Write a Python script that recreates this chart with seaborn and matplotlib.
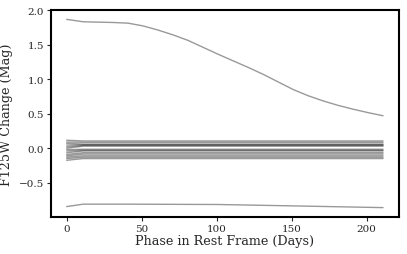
import matplotlib
matplotlib.use("Agg")
import matplotlib.pyplot as plt
import seaborn as sns
import pandas as pd

# declining curve at the top
top_days = [0, 11, 21, 31, 41, 51, 61, 71, 81, 91, 101, 111, 121, 131, 141,
            151, 161, 171, 181, 191, 201, 211]
top_mag = [1.865, 1.83, 1.825, 1.82, 1.81, 1.77, 1.71, 1.64, 1.56, 1.46, 1.36,
           1.265, 1.17, 1.07, 0.96, 0.85, 0.76, 0.685, 0.62, 0.565, 0.515, 0.47]

# curve at the bottom
bot_days = [0, 11, 41, 101, 151, 211]
bot_mag = [-0.845, -0.81, -0.81, -0.815, -0.835, -0.86]

# flat curves near zero: value at day 0, day 11, day 211
flat_days = [0, 11, 211]
flat_start = [0.115, 0.09, 0.07, 0.045, 0.02, 0.00, -0.02, -0.04, -0.065, -0.09, -0.11, -0.13, -0.15, -0.175]
flat_mid = [0.105, 0.085, 0.06, 0.05, 0.04, 0.03, -0.015, -0.03, -0.04, -0.065, -0.085, -0.11, -0.13, -0.15]
flat_end = [0.105, 0.085, 0.06, 0.05, 0.04, 0.03, -0.015, -0.03, -0.04, -0.065, -0.085, -0.11, -0.13, -0.15]

rows = []
for d, m in zip(top_days, top_mag):
    rows.append({"curve": "top", "phase": d, "mag": m})
for d, m in zip(bot_days, bot_mag):
    rows.append({"curve": "bot", "phase": d, "mag": m})
for i in range(len(flat_start)):
    for d, m in zip(flat_days, [flat_start[i], flat_mid[i], flat_end[i]]):
        rows.append({"curve": f"flat{i}", "phase": d, "mag": m})
df = pd.DataFrame(rows)

sns.set_style("white")
plt.rcParams["font.family"] = ["DejaVu Serif"]

fig, ax = plt.subplots(figsize=(4.07, 2.55), dpi=100)
fig.subplots_adjust(left=0.125, right=0.980, top=0.957, bottom=0.145)

sns.lineplot(data=df, x="phase", y="mag", units="curve", estimator=None,
             color="black", alpha=0.4, lw=1.0, ax=ax, sort=False)

ax.set_yticks([-0.5, 0.0, 0.5, 1.0, 1.5, 2.0])
ax.set_xticks([0, 50, 100, 150, 200])
ax.set_xlabel("Phase in Rest Frame (Days)", fontsize=9.2, labelpad=1)
ax.set_ylabel("F125W Change (Mag)", fontsize=9.2)
ax.yaxis.set_label_coords(-0.109, 0.5)
ax.tick_params(axis="both", labelsize=7.5, length=3, width=0.8, direction="out",
               bottom=True, left=True, pad=2)
for s in ax.spines.values():
    s.set_color("black")
    s.set_linewidth(1.5)

plt.savefig("out.png", dpi=100)
